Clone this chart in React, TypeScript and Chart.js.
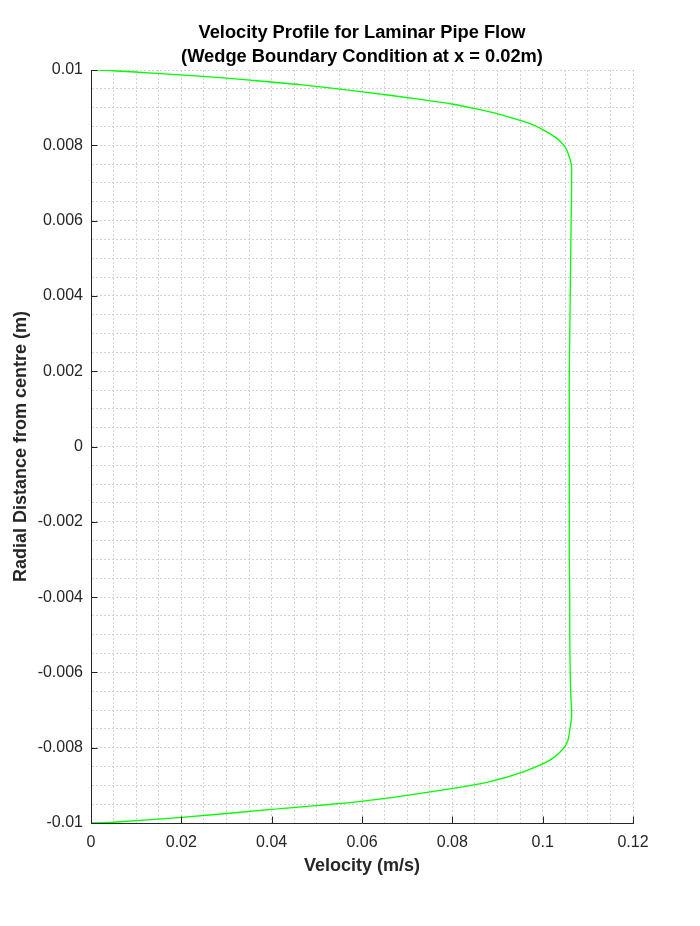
import React, { useEffect, useRef } from 'react';
import { Chart, registerables } from 'chart.js';

Chart.register(...registerables);

// radial position (m), top wall to bottom wall
const radialPos = [
    0.01, 0.00998, 0.00991, 0.00983, 0.00973, 0.00961, 0.00942, 0.00922, 0.00909, 0.00898,
    0.00883, 0.00866, 0.00854, 0.00841, 0.00819, 0.00801, 0.00788, 0.00765, 0.00743, 0.0072,
    0.0067, 0.006, 0.005, 0.004, 0.003, 0.002, 0.001, 0, -0.001, -0.002,
    -0.003, -0.004, -0.005, -0.006, -0.0065, -0.007, -0.0072, -0.00753, -0.0078, -0.00802,
    -0.00833, -0.00864, -0.0089, -0.00908, -0.00942, -0.00964, -0.00985, -0.00998, -0.01,
];

// axial velocity (m/s) at each radial position
const velocity = [
    0, 0.0049, 0.0145, 0.0248, 0.0352, 0.0463, 0.0602, 0.0729, 0.0802, 0.0847,
    0.0902, 0.095, 0.0979, 0.1001, 0.1031, 0.1046, 0.1053, 0.106, 0.1064, 0.1064,
    0.1064, 0.1063, 0.1062, 0.1061, 0.106, 0.1059, 0.1059, 0.1059, 0.1059, 0.1059,
    0.1059, 0.106, 0.106, 0.1061, 0.1062, 0.1064, 0.1064, 0.106, 0.1056, 0.1046,
    0.1016, 0.0957, 0.0883, 0.0802, 0.0603, 0.04, 0.0201, 0.0049, 0,
];

const xMajorTicks = [0, 0.02, 0.04, 0.06, 0.08, 0.1, 0.12];
const yMajorTicks = [-0.01, -0.008, -0.006, -0.004, -0.002, 0, 0.002, 0.004, 0.006, 0.008, 0.01];

const FONT = '"Liberation Sans", Arial, Helvetica, sans-serif';
const AXIS_COLOR = '#262626';
const GRID_COLOR = '#d3d3d3';

const isMajor = (v: number, list: number[]) => list.some(t => Math.abs(t - v) < 1e-9);
const fmt = (v: number) => String(parseFloat(v.toFixed(5)));

// MATLAB-style tick marks drawn inside the axes
const innerTicks = {
    id: 'innerTicks',
    afterDraw(chart: Chart) {
        const { ctx, chartArea, scales } = chart;
        const len = 6.5;
        ctx.save();
        ctx.strokeStyle = AXIS_COLOR;
        ctx.lineWidth = 1;
        ctx.beginPath();
        xMajorTicks.forEach(t => {
            const px = Math.round(scales.x.getPixelForValue(t)) + 0.5;
            ctx.moveTo(px, chartArea.bottom);
            ctx.lineTo(px, chartArea.bottom - len);
        });
        yMajorTicks.forEach(t => {
            const py = Math.round(scales.y.getPixelForValue(t)) + 0.5;
            ctx.moveTo(chartArea.left, py);
            ctx.lineTo(chartArea.left + len, py);
        });
        ctx.stroke();
        ctx.restore();
    },
};

const whiteBg = {
    id: 'whiteBg',
    beforeDraw(chart: Chart) {
        const { ctx, width, height } = chart;
        ctx.save();
        ctx.fillStyle = '#ffffff';
        ctx.fillRect(0, 0, width, height);
        ctx.restore();
    },
};

export default function App() {
    const canvasRef = useRef<HTMLCanvasElement>(null);

    useEffect(() => {
        if (!canvasRef.current) return;
        const points = radialPos.map((r, i) => ({ x: velocity[i], y: r }));

        const chart = new Chart(canvasRef.current, {
            type: 'scatter',
            data: {
                datasets: [
                    {
                        data: points,
                        showLine: true,
                        borderColor: '#00ff00',
                        borderWidth: 1.3,
                        pointRadius: 0,
                        tension: 0.3,
                        fill: false,
                    },
                ],
            },
            options: {
                responsive: false,
                animation: false,
                layout: { padding: { left: 0, right: 67, top: 0, bottom: 49 } },
                plugins: {
                    legend: { display: false },
                    tooltip: { enabled: false },
                    title: {
                        display: true,
                        fullSize: false,
                        text: ['Velocity Profile for Laminar Pipe Flow', '(Wedge Boundary Condition at x = 0.02m)'],
                        color: '#000000',
                        font: { family: FONT, size: 18.3, weight: 'bold', lineHeight: 24 / 18.3 },
                        padding: { top: 20.5, bottom: 1.5 },
                    },
                },
                scales: {
                    x: {
                        type: 'linear',
                        min: 0,
                        max: 0.12,
                        afterFit: (s: any) => { s.height = 54; },
                        grid: { color: GRID_COLOR, lineWidth: 1, drawTicks: false },
                        border: { display: true, color: AXIS_COLOR, width: 1, dash: [2, 2] },
                        ticks: {
                            stepSize: 0.005,
                            autoSkip: false,
                            maxRotation: 0,
                            padding: 10,
                            color: AXIS_COLOR,
                            font: { family: FONT, size: 16 },
                            callback: (v: number | string) => (isMajor(Number(v), xMajorTicks) ? fmt(Number(v)) : ''),
                        },
                        title: {
                            display: true,
                            text: 'Velocity (m/s)',
                            color: AXIS_COLOR,
                            font: { family: FONT, size: 18, weight: 'bold' },
                            padding: { top: 0, bottom: 0 },
                        },
                    },
                    y: {
                        type: 'linear',
                        min: -0.01,
                        max: 0.01,
                        afterFit: (s: any) => { s.width = 91; },
                        grid: { color: GRID_COLOR, lineWidth: 1, drawTicks: false },
                        border: { display: true, color: AXIS_COLOR, width: 1, dash: [2, 2] },
                        ticks: {
                            stepSize: 0.0005,
                            autoSkip: false,
                            padding: 8,
                            color: AXIS_COLOR,
                            font: { family: FONT, size: 16 },
                            callback: (v: number | string) => (isMajor(Number(v), yMajorTicks) ? fmt(Number(v)) : ''),
                        },
                        title: {
                            display: true,
                            text: 'Radial Distance from centre (m)',
                            color: AXIS_COLOR,
                            font: { family: FONT, size: 18, weight: 'bold' },
                            padding: { top: 10, bottom: 0 },
                        },
                    },
                },
            },
            plugins: [whiteBg, innerTicks],
        });

        return () => chart.destroy();
    }, []);

    return (
        <div style={{ position: 'absolute', left: 0, top: 0, width: 700, height: 926, background: '#fff' }}>
            <canvas ref={canvasRef} width={700} height={926} />
        </div>
    );
}
